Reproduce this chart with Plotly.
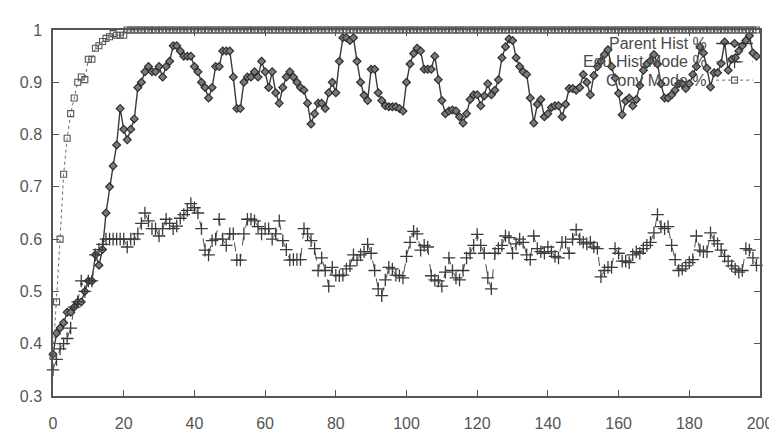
import plotly.graph_objects as go

x_vals = list(range(200))

parent_hist = [
    0.38, 0.42, 0.43, 0.44, 0.46, 0.46, 0.47, 0.48, 0.48, 0.50,
    0.52, 0.52, 0.57, 0.55, 0.58, 0.65, 0.70, 0.74, 0.78, 0.85,
    0.81, 0.79, 0.81, 0.83, 0.89, 0.90, 0.92, 0.93, 0.92, 0.92,
    0.93, 0.91, 0.93, 0.94, 0.97, 0.97, 0.96, 0.95, 0.95, 0.95,
    0.93, 0.92, 0.90, 0.89, 0.87, 0.89, 0.93, 0.93, 0.96, 0.96,
    0.96, 0.91, 0.85, 0.85, 0.90, 0.91, 0.91, 0.92, 0.91, 0.94,
    0.92, 0.89, 0.92, 0.88, 0.86, 0.89, 0.91, 0.92, 0.91, 0.90,
    0.89, 0.885, 0.86, 0.82, 0.84, 0.86, 0.86, 0.85, 0.88, 0.90,
    0.88, 0.94, 0.985, 0.985, 0.98, 0.985, 0.94, 0.90, 0.875, 0.865,
    0.925, 0.925, 0.88, 0.865, 0.855, 0.853, 0.853, 0.853, 0.85, 0.845,
    0.90, 0.935, 0.955, 0.965, 0.96, 0.925, 0.925, 0.925, 0.95, 0.905,
    0.865, 0.84, 0.845, 0.847, 0.845, 0.834, 0.822, 0.84, 0.867, 0.876,
    0.876, 0.855, 0.874, 0.897, 0.876, 0.885, 0.905, 0.947, 0.968, 0.983,
    0.98, 0.947, 0.93, 0.92, 0.915, 0.87, 0.822, 0.858, 0.867, 0.834,
    0.84, 0.852, 0.855, 0.855, 0.834, 0.858, 0.888, 0.888, 0.885, 0.89,
    0.915, 0.90, 0.876, 0.913, 0.93, 0.94, 0.953, 0.962, 0.93, 0.908,
    0.879, 0.838, 0.864, 0.87, 0.855, 0.867, 0.894, 0.923, 0.935, 0.941,
    0.953, 0.935, 0.897, 0.87, 0.87, 0.876, 0.885, 0.897, 0.897, 0.888,
    0.897, 0.915, 0.93, 0.968, 0.956, 0.927, 0.891, 0.918, 0.918, 0.936,
    0.977, 0.923, 0.944, 0.947, 0.96, 0.97, 0.98, 0.989, 0.956, 0.95,
]

edu_hist_mode = [
    0.35, 0.37, 0.39, 0.40, 0.41, 0.43, 0.47, 0.48, 0.52, 0.50,
    0.52, 0.52, 0.57, 0.58, 0.59, 0.60, 0.60, 0.60, 0.60, 0.60,
    0.60, 0.585, 0.60, 0.60, 0.61, 0.63, 0.65, 0.635, 0.62, 0.62,
    0.606, 0.62, 0.638, 0.63, 0.62, 0.625, 0.64, 0.647, 0.655, 0.668,
    0.66, 0.65, 0.62, 0.579, 0.57, 0.597, 0.60, 0.638, 0.60, 0.588,
    0.61, 0.61, 0.56, 0.56, 0.61, 0.638, 0.638, 0.635, 0.624, 0.61,
    0.62, 0.62, 0.60, 0.61, 0.635, 0.597, 0.58, 0.56, 0.561, 0.561,
    0.561, 0.62, 0.61, 0.597, 0.582, 0.54, 0.564, 0.54, 0.51, 0.546,
    0.531, 0.53, 0.531, 0.543, 0.549, 0.57, 0.56, 0.57, 0.576, 0.59,
    0.573, 0.54, 0.505, 0.492, 0.522, 0.546, 0.543, 0.531, 0.53, 0.526,
    0.567, 0.594, 0.615, 0.61, 0.579, 0.588, 0.585, 0.53, 0.522, 0.52,
    0.51, 0.537, 0.564, 0.54, 0.526, 0.522, 0.54, 0.564, 0.573, 0.588,
    0.609, 0.588, 0.573, 0.526, 0.505, 0.573, 0.582, 0.588, 0.606, 0.603,
    0.573, 0.591, 0.60, 0.594, 0.57, 0.561, 0.606, 0.582, 0.576, 0.573,
    0.585, 0.576, 0.567, 0.564, 0.594, 0.594, 0.573, 0.60, 0.618, 0.60,
    0.594, 0.591, 0.594, 0.585, 0.582, 0.528, 0.54, 0.546, 0.546, 0.582,
    0.573, 0.558, 0.558, 0.555, 0.57, 0.576, 0.573, 0.582, 0.588, 0.594,
    0.612, 0.647, 0.624, 0.62, 0.624, 0.588, 0.561, 0.54, 0.543, 0.549,
    0.555, 0.561, 0.606, 0.579, 0.576, 0.576, 0.612, 0.597, 0.591, 0.579,
    0.567, 0.558, 0.549, 0.543, 0.537, 0.54, 0.582, 0.579, 0.564, 0.55,
]

conv_mode_early = [
    0.376, 0.48, 0.60, 0.724, 0.793, 0.84, 0.87, 0.90, 0.91, 0.905,
    0.944, 0.944, 0.965, 0.97, 0.978, 0.984, 0.987, 0.993, 0.99, 0.99,
    0.99,
]
conv_mode = conv_mode_early + [1.0] * (200 - len(conv_mode_early))

series_names = ["Parent Hist %", "Edu Hist Mode %", "Conv Mode %"]
x_ticks = list(range(0, 201, 20))
y_ticks = [0.3, 0.4, 0.5, 0.6, 0.7, 0.8, 0.9, 1.0]
y_tick_text = ["0.3", "0.4", "0.5", "0.6", "0.7", "0.8", "0.9", "1"]

ink = "#3a3a3a"
parent_line = dict(color=ink, width=1.4)
parent_marker = dict(symbol="diamond", size=6, color="#7a7a7a",
                     line=dict(color="#2e2e2e", width=1.2))
edu_line = dict(color="#505050", width=1, dash="dash")
edu_marker = dict(symbol="cross-thin", size=9, line=dict(color=ink, width=1.3))
conv_line = dict(color="#6a6a6a", width=1, dash="dot")
conv_marker = dict(symbol="square-open", size=6, color="#555555",
                   line=dict(color="#555555", width=1.1))

fig = go.Figure()
fig.add_trace(go.Scatter(
    x=x_vals, y=parent_hist, mode="lines+markers", name=series_names[0],
    line=parent_line, marker=parent_marker, cliponaxis=False, showlegend=False,
))
fig.add_trace(go.Scatter(
    x=x_vals, y=edu_hist_mode, mode="lines+markers", name=series_names[1],
    line=edu_line, marker=edu_marker, cliponaxis=False, showlegend=False,
))
fig.add_trace(go.Scatter(
    x=x_vals, y=conv_mode, mode="lines+markers", name=series_names[2],
    line=conv_line, marker=conv_marker, cliponaxis=False, showlegend=False,
))

# gnuplot-style key: text right-aligned, sample on the right
key_rows = [0.963, 0.913, 0.863]
key_styles = [(parent_line, parent_marker), (edu_line, edu_marker), (conv_line, conv_marker)]
for name, yk, (ls, ms) in zip(series_names, key_rows, key_styles):
    fig.add_trace(go.Scatter(
        x=[0.938, 0.99], y=[yk, yk], mode="lines", line=ls,
        xaxis="x2", yaxis="y2", showlegend=False, hoverinfo="skip",
    ))
    fig.add_trace(go.Scatter(
        x=[0.964], y=[yk], mode="markers", marker=ms,
        xaxis="x2", yaxis="y2", showlegend=False, hoverinfo="skip",
    ))
    fig.add_annotation(
        x=0.926, y=yk, xref="paper", yref="paper", text=name,
        showarrow=False, xanchor="right", yanchor="middle",
        borderpad=0,
        font=dict(family="Liberation Sans, Arial, sans-serif", size=16, color="#4a4a4a"),
    )

axis_common = dict(
    showgrid=False, zeroline=False, showline=True, linecolor="#555555",
    linewidth=1.5, mirror="ticks", ticks="inside", ticklen=6,
    tickcolor="#555555", tickwidth=1.2,
    tickfont=dict(family="Liberation Sans, Arial, sans-serif", size=16, color="#555555"),
)

fig.update_layout(
    width=777, height=436,
    margin=dict(l=45, r=18, t=22, b=21),
    paper_bgcolor="white", plot_bgcolor="white",
    xaxis=dict(range=[0, 200], tickvals=x_ticks, ticklabelstandoff=12, **axis_common),
    yaxis=dict(range=[0.3, 1.0], tickvals=y_ticks, ticktext=y_tick_text,
               ticklabelstandoff=6, **axis_common),
    xaxis2=dict(overlaying="x", range=[0, 1], visible=False),
    yaxis2=dict(overlaying="y", range=[0, 1], visible=False),
    showlegend=False,
)

fig.write_html("out.html")
